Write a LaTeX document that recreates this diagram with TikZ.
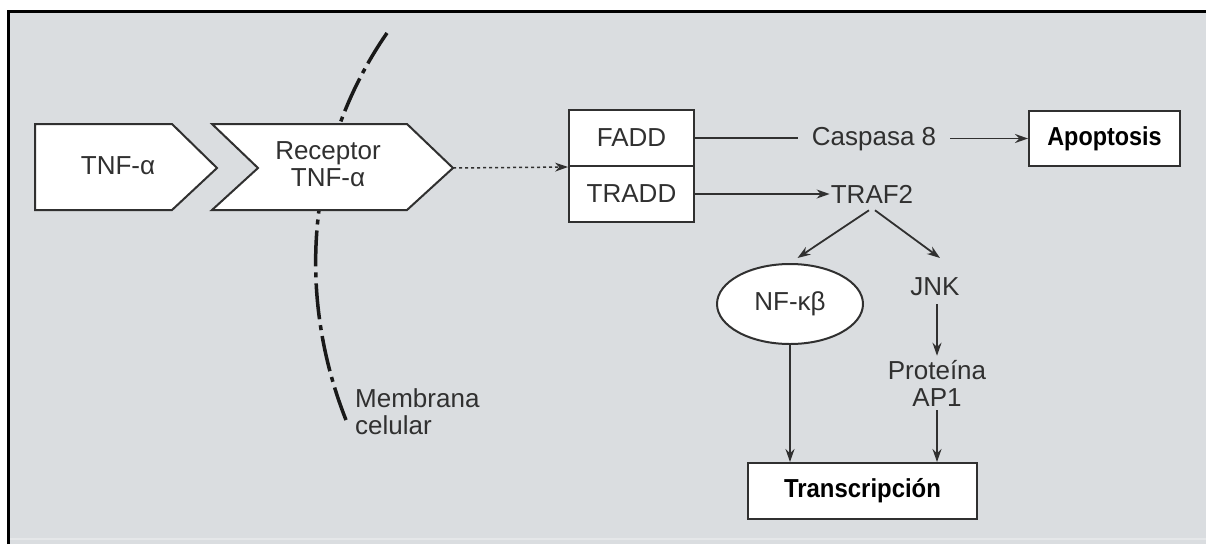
\documentclass[tikz,border=0pt]{standalone}
\usepackage{fontspec}
\setmainfont{Liberation Sans}
\usepackage{graphicx}
\usetikzlibrary{positioning,arrows.meta,shapes.geometric}
\definecolor{panelgray}{HTML}{DADDE0}
\definecolor{inkgray}{HTML}{303030}

\begin{document}
\begin{tikzpicture}[x=1pt,y=-1pt,
		every node/.style={text=inkgray,font=\fontsize{26}{27}\selectfont},
		box/.style={draw=inkgray,line width=2pt,fill=white,inner sep=0pt},
		txt/.style={inner sep=0pt,align=center},
		link/.style={draw=inkgray,line width=1.8pt},
		arr/.style={link,-{Stealth[length=13pt,width=9pt]}},
		strong/.style={text=black,font=\fontsize{26}{27}\selectfont\bfseries}]
			\pgfmathsetmacro{\PanelWidth}{1206}
			\pgfmathsetmacro{\PanelHeight}{544}
			\pgfmathsetmacro{\ComplexWidth}{125}
			\pgfmathsetmacro{\ComplexRow}{56}
			\useasboundingbox (0,0) rectangle (\PanelWidth,\PanelHeight);
			
			\fill[white] (0,0) rectangle (\PanelWidth,\PanelHeight);
			\fill[panelgray] (7,12) rectangle (\PanelWidth,\PanelHeight);
			\draw[panelgray!70!white,line width=2pt] (9,539) -- (\PanelWidth,539);
			\draw[black,line width=3pt] (8.5,\PanelHeight) -- (8.5,11.5) -- (\PanelWidth,11.5);
			
			\draw[black!90,line width=3.5pt,dash pattern=on 36pt off 6pt on 5pt off 6pt]
				(387,33) .. controls (308,147) and (295,291) .. (346,420);
			\node[txt,align=left,anchor=west] (Membrana) at (355,412) {Membrana\\celular};
			
			\coordinate (RecTip) at (453,168);
			\filldraw[fill=white,draw=inkgray,line width=2pt]
				(35,124) -- (172,124) -- (217,168) -- (172,210) -- (35,210) -- cycle;
			\filldraw[fill=white,draw=inkgray,line width=2pt]
				(212,124) -- (407,124) -- (RecTip) -- (407,210) -- (212,210) -- (258,168) -- cycle;
			\node[txt] (TNF) at (118,166) {TNF-α};
			\node[txt] (Receptor) at (328,164) {Receptor\\TNF-α};
			
			\node[box,minimum width=\ComplexWidth,minimum height=\ComplexRow] (FADD) at (631.5,138) {FADD};
			\node[box,minimum width=\ComplexWidth,minimum height=\ComplexRow] (TRADD) at (631.5,194) {TRADD};
			\draw[arr,dash pattern=on 3pt off 3pt,line width=1.5pt] (RecTip) -- (FADD.south west);
			
			\node[txt,inner xsep=14pt] (Caspasa) at (874,139.5) {Caspasa 8};
			\node[box,strong,minimum width=151,minimum height=55] (Apoptosis) at (1104.5,138.5) {\scalebox{0.9}[1]{Apoptosis}};
			\draw[link] (FADD.east) -- (FADD.east -| Caspasa.west);
			\draw[arr] (Caspasa.east |- Apoptosis.west) -- (Apoptosis.west);
			
			\node[txt,inner xsep=1pt,inner ysep=7pt] (TRAF) at (872,194) {TRAF2};
			\draw[arr] (TRADD.east) -- (TRAF.west);
			
			\node[ellipse,draw=inkgray,line width=2pt,fill=white,minimum width=146,minimum height=80,inner sep=0pt] (NFkB) at (790,304) {NF-κβ};
			\node[txt,inner ysep=8pt] (JNK) at (935,287) {JNK};
			\coordinate (JNKin) at ([shift={(5,-29)}]JNK.center);
			\node[txt,inner ysep=4pt] (AP) at (937,383) {Proteína\\AP1};
			\node[box,strong,minimum width=229,minimum height=56] (Transcripcion) at (862.5,491) {\scalebox{0.92}[1]{Transcripción}};
			
			\draw[arr,shorten >=9pt] ([xshift=-3pt]TRAF.south) -- (NFkB.north);
			\draw[arr] ([xshift=3pt]TRAF.south) -- (JNKin);
			\draw[arr] (JNK.south -| AP.north) -- (AP.north);
			\draw[arr] (NFkB.south) -- (NFkB.south |- Transcripcion.north);
			\draw[arr] (AP.south) -- (AP.south |- Transcripcion.north);
		\end{tikzpicture}
\end{document}
